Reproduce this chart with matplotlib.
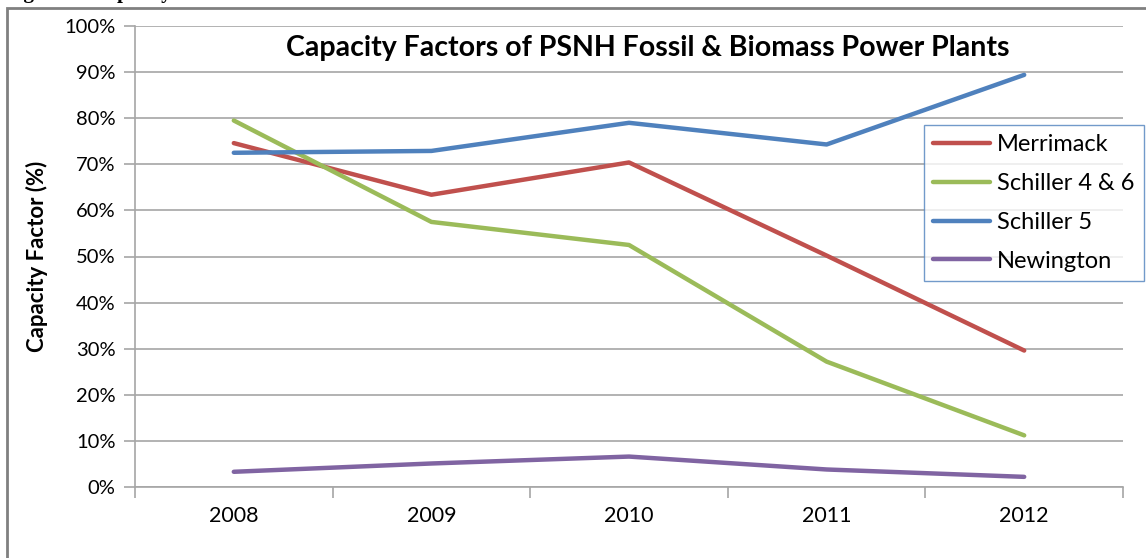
import numpy as np
import matplotlib
matplotlib.use("Agg")
import matplotlib.pyplot as plt
from matplotlib.ticker import FixedLocator, PercentFormatter
from matplotlib.patches import Rectangle

years = ["2008", "2009", "2010", "2011", "2012"]
merrimack = [74.6, 63.4, 70.4, 50.2, 29.6]
schiller_46 = [79.5, 57.5, 52.5, 27.2, 11.2]
schiller_5 = [72.5, 72.9, 79.0, 74.3, 89.4]
newington = [3.3, 5.1, 6.6, 3.8, 2.2]

series = [
    ("Merrimack", merrimack, "#c0504d"),
    ("Schiller 4 & 6", schiller_46, "#9bbb59"),
    ("Schiller 5", schiller_5, "#4f81bd"),
    ("Newington", newington, "#8064a2"),
]

plt.rcParams["font.family"] = ["Lato", "DejaVu Sans"]

fig = plt.figure(figsize=(11.46, 5.58), dpi=100)
ax = fig.add_axes([135 / 1146, 1 - 487 / 558, (1123 - 135) / 1146, (487 - 26) / 558])

x = np.arange(len(years))
for name, vals, col in series:
    ax.plot(x, vals, color=col, lw=3.2, label=name, solid_capstyle="round")

ax.set_xlim(-0.5, len(years) - 0.5)
ax.set_ylim(0, 100)
ax.set_yticks(np.arange(0, 101, 10))
ax.yaxis.set_major_formatter(PercentFormatter(decimals=0))
ax.set_xticks(x)
ax.set_xticklabels(years)
ax.xaxis.set_minor_locator(FixedLocator(np.arange(-0.5, len(years), 1.0)))
ax.tick_params(axis="x", which="major", length=0, pad=14, labelsize=15.5)
ax.tick_params(axis="x", which="minor", length=8, width=1.2, color="#a6a6a6")
ax.tick_params(axis="y", length=8, width=1.2, color="#a6a6a6", labelsize=14.5, pad=6)
ax.grid(axis="y", color="#a6a6a6", lw=1.2)
ax.set_axisbelow(True)
for s in ["top", "right"]:
    ax.spines[s].set_visible(False)
for s in ["left", "bottom"]:
    ax.spines[s].set_color("#a6a6a6")
    ax.spines[s].set_linewidth(1.2)

ax.set_ylabel("Capacity Factor (%)", fontsize=16, fontweight="bold", labelpad=12)
fig.text(648 / 1146, 1 - 48 / 558, "Capacity Factors of PSNH Fossil & Biomass Power Plants",
         ha="center", va="center", fontsize=20.5, fontweight="bold")

leg = ax.legend(loc="upper left", bbox_to_anchor=(924 / 1146, 1 - 125 / 558),
                bbox_transform=fig.transFigure, frameon=True, fancybox=False,
                fontsize=17, handlelength=2.4, borderpad=0.4, labelspacing=0.75,
                handletextpad=0.3, borderaxespad=0)
leg.get_frame().set_edgecolor("#4f81bd")
leg.get_frame().set_linewidth(1.0)

# outer chart border and clipped caption above it
fig.patches.append(Rectangle((7 / 1146, -0.1), 1.2, 1 - 8 / 558 + 0.1,
                             transform=fig.transFigure, fill=False,
                             edgecolor="#808080", lw=2))
fig.text(5 / 1146, 1 + 2 / 558, "Figure 4: Capacity Factors", ha="left", va="baseline",
         fontsize=15, fontweight="bold", family="Liberation Serif")

fig.savefig("out.png", dpi=100)
